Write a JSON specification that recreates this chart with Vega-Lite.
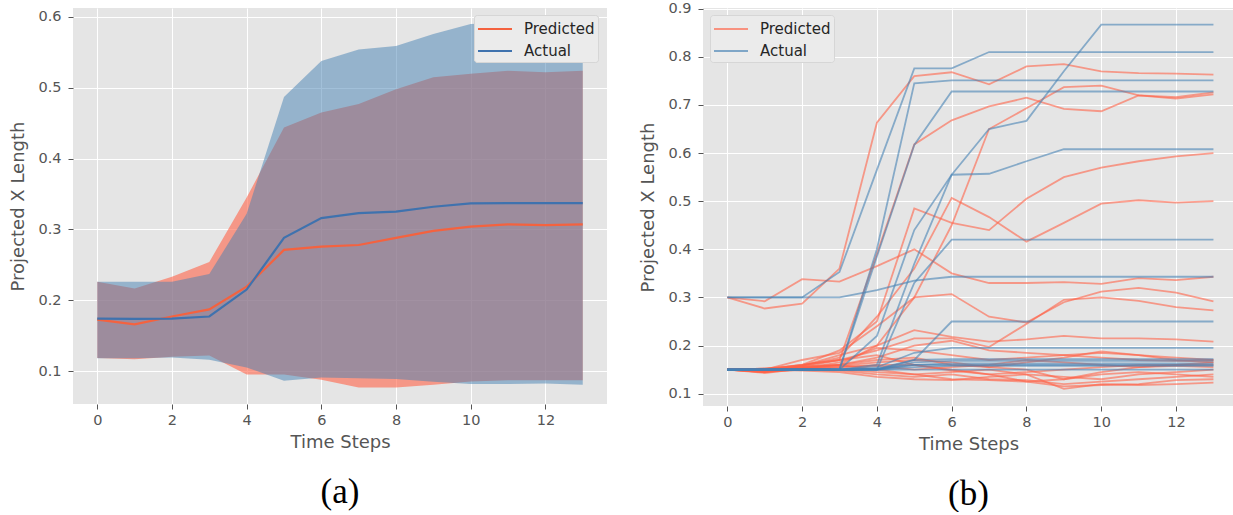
{
  "$schema": "https://vega.github.io/schema/vega-lite/v6.json",
  "background": "white",
  "padding": {"left": 9, "top": 0, "right": 0, "bottom": 0},
  "spacing": 32,
  "config": {
    "view": {"fill": "#E5E5E5", "stroke": null},
    "axis": {"labelFont": "DejaVu Sans", "labelFontSize": 14.5, "labelColor": "#555555", "titleFont": "DejaVu Sans", "titleFontSize": 18, "titleColor": "#555555", "titleFontWeight": "normal", "domain": false, "tickColor": "#555555", "tickSize": 5, "tickWidth": 1, "gridColor": "#FFFFFF", "gridWidth": 1, "gridOpacity": 1, "labelFlush": false, "labelOverlap": false},
    "axisX": {"labelPadding": 4, "titlePadding": 7},
    "axisY": {"labelPadding": 7, "titlePadding": 10},
    "legend": {"labelFont": "DejaVu Sans", "labelFontSize": 15, "labelColor": "#262626", "fillColor": "#EBEBEB", "strokeColor": "#D6D6D6", "cornerRadius": 3, "padding": 3, "rowPadding": 3, "symbolSize": 400, "symbolType": "M-1,0H2.4", "symbolStrokeWidth": 2, "labelOffset": 25, "title": null},
    "title": {"font": "Liberation Serif", "fontSize": 35, "fontWeight": "normal", "color": "#000000", "orient": "bottom", "anchor": "middle", "offset": 23}
  },
  "datasets": {
    "band": [
      {"series": "Predicted", "t": 0, "mean": 0.1725, "lo": 0.1185, "hi": 0.226},
      {"series": "Predicted", "t": 1, "mean": 0.166, "lo": 0.1166, "hi": 0.2166},
      {"series": "Predicted", "t": 2, "mean": 0.177, "lo": 0.12, "hi": 0.233},
      {"series": "Predicted", "t": 3, "mean": 0.187, "lo": 0.122, "hi": 0.254},
      {"series": "Predicted", "t": 4, "mean": 0.219, "lo": 0.095, "hi": 0.345},
      {"series": "Predicted", "t": 5, "mean": 0.271, "lo": 0.095, "hi": 0.444},
      {"series": "Predicted", "t": 6, "mean": 0.2756, "lo": 0.0877, "hi": 0.465},
      {"series": "Predicted", "t": 7, "mean": 0.278, "lo": 0.0768, "hi": 0.477},
      {"series": "Predicted", "t": 8, "mean": 0.288, "lo": 0.0768, "hi": 0.498},
      {"series": "Predicted", "t": 9, "mean": 0.298, "lo": 0.0806, "hi": 0.515},
      {"series": "Predicted", "t": 10, "mean": 0.304, "lo": 0.0853, "hi": 0.52},
      {"series": "Predicted", "t": 11, "mean": 0.307, "lo": 0.087, "hi": 0.524},
      {"series": "Predicted", "t": 12, "mean": 0.306, "lo": 0.087, "hi": 0.522},
      {"series": "Predicted", "t": 13, "mean": 0.307, "lo": 0.087, "hi": 0.524},
      {"series": "Actual", "t": 0, "mean": 0.174, "lo": 0.118, "hi": 0.226},
      {"series": "Actual", "t": 1, "mean": 0.1735, "lo": 0.118, "hi": 0.226},
      {"series": "Actual", "t": 2, "mean": 0.174, "lo": 0.119, "hi": 0.226},
      {"series": "Actual", "t": 3, "mean": 0.177, "lo": 0.116, "hi": 0.237},
      {"series": "Actual", "t": 4, "mean": 0.215, "lo": 0.105, "hi": 0.322},
      {"series": "Actual", "t": 5, "mean": 0.288, "lo": 0.0863, "hi": 0.487},
      {"series": "Actual", "t": 6, "mean": 0.316, "lo": 0.091, "hi": 0.538},
      {"series": "Actual", "t": 7, "mean": 0.323, "lo": 0.0896, "hi": 0.554},
      {"series": "Actual", "t": 8, "mean": 0.325, "lo": 0.0886, "hi": 0.559},
      {"series": "Actual", "t": 9, "mean": 0.332, "lo": 0.085, "hi": 0.576},
      {"series": "Actual", "t": 10, "mean": 0.3367, "lo": 0.0815, "hi": 0.59},
      {"series": "Actual", "t": 11, "mean": 0.337, "lo": 0.0815, "hi": 0.592},
      {"series": "Actual", "t": 12, "mean": 0.337, "lo": 0.0825, "hi": 0.593},
      {"series": "Actual", "t": 13, "mean": 0.337, "lo": 0.0806, "hi": 0.593}
    ],
    "lines": [
      {"s":"a1","g":"Actual","t":0,"v":0.15},{"s":"a1","g":"Actual","t":1,"v":0.15},{"s":"a1","g":"Actual","t":2,"v":0.15},{"s":"a1","g":"Actual","t":3,"v":0.15},{"s":"a1","g":"Actual","t":4,"v":0.22},{"s":"a1","g":"Actual","t":5,"v":0.44},{"s":"a1","g":"Actual","t":6,"v":0.555},{"s":"a1","g":"Actual","t":7,"v":0.65},{"s":"a1","g":"Actual","t":8,"v":0.667},{"s":"a1","g":"Actual","t":9,"v":0.77},{"s":"a1","g":"Actual","t":10,"v":0.867},{"s":"a1","g":"Actual","t":11,"v":0.867},{"s":"a1","g":"Actual","t":12,"v":0.867},{"s":"a1","g":"Actual","t":13,"v":0.867},
      {"s":"a2","g":"Actual","t":0,"v":0.3},{"s":"a2","g":"Actual","t":1,"v":0.3},{"s":"a2","g":"Actual","t":2,"v":0.3},{"s":"a2","g":"Actual","t":3,"v":0.353},{"s":"a2","g":"Actual","t":4,"v":0.565},{"s":"a2","g":"Actual","t":5,"v":0.776},{"s":"a2","g":"Actual","t":6,"v":0.776},{"s":"a2","g":"Actual","t":7,"v":0.81},{"s":"a2","g":"Actual","t":8,"v":0.81},{"s":"a2","g":"Actual","t":9,"v":0.81},{"s":"a2","g":"Actual","t":10,"v":0.81},{"s":"a2","g":"Actual","t":11,"v":0.81},{"s":"a2","g":"Actual","t":12,"v":0.81},{"s":"a2","g":"Actual","t":13,"v":0.81},
      {"s":"a3","g":"Actual","t":0,"v":0.15},{"s":"a3","g":"Actual","t":1,"v":0.15},{"s":"a3","g":"Actual","t":2,"v":0.15},{"s":"a3","g":"Actual","t":3,"v":0.15},{"s":"a3","g":"Actual","t":4,"v":0.4},{"s":"a3","g":"Actual","t":5,"v":0.745},{"s":"a3","g":"Actual","t":6,"v":0.751},{"s":"a3","g":"Actual","t":7,"v":0.751},{"s":"a3","g":"Actual","t":8,"v":0.751},{"s":"a3","g":"Actual","t":9,"v":0.751},{"s":"a3","g":"Actual","t":10,"v":0.751},{"s":"a3","g":"Actual","t":11,"v":0.751},{"s":"a3","g":"Actual","t":12,"v":0.751},{"s":"a3","g":"Actual","t":13,"v":0.751},
      {"s":"a4","g":"Actual","t":0,"v":0.15},{"s":"a4","g":"Actual","t":1,"v":0.15},{"s":"a4","g":"Actual","t":2,"v":0.15},{"s":"a4","g":"Actual","t":3,"v":0.15},{"s":"a4","g":"Actual","t":4,"v":0.385},{"s":"a4","g":"Actual","t":5,"v":0.617},{"s":"a4","g":"Actual","t":6,"v":0.728},{"s":"a4","g":"Actual","t":7,"v":0.728},{"s":"a4","g":"Actual","t":8,"v":0.728},{"s":"a4","g":"Actual","t":9,"v":0.728},{"s":"a4","g":"Actual","t":10,"v":0.728},{"s":"a4","g":"Actual","t":11,"v":0.728},{"s":"a4","g":"Actual","t":12,"v":0.728},{"s":"a4","g":"Actual","t":13,"v":0.728},
      {"s":"a5","g":"Actual","t":0,"v":0.15},{"s":"a5","g":"Actual","t":1,"v":0.15},{"s":"a5","g":"Actual","t":2,"v":0.15},{"s":"a5","g":"Actual","t":3,"v":0.15},{"s":"a5","g":"Actual","t":4,"v":0.16},{"s":"a5","g":"Actual","t":5,"v":0.37},{"s":"a5","g":"Actual","t":6,"v":0.555},{"s":"a5","g":"Actual","t":7,"v":0.557},{"s":"a5","g":"Actual","t":8,"v":0.583},{"s":"a5","g":"Actual","t":9,"v":0.608},{"s":"a5","g":"Actual","t":10,"v":0.608},{"s":"a5","g":"Actual","t":11,"v":0.608},{"s":"a5","g":"Actual","t":12,"v":0.608},{"s":"a5","g":"Actual","t":13,"v":0.608},
      {"s":"a6","g":"Actual","t":0,"v":0.15},{"s":"a6","g":"Actual","t":1,"v":0.15},{"s":"a6","g":"Actual","t":2,"v":0.15},{"s":"a6","g":"Actual","t":3,"v":0.15},{"s":"a6","g":"Actual","t":4,"v":0.15},{"s":"a6","g":"Actual","t":5,"v":0.33},{"s":"a6","g":"Actual","t":6,"v":0.42},{"s":"a6","g":"Actual","t":7,"v":0.42},{"s":"a6","g":"Actual","t":8,"v":0.42},{"s":"a6","g":"Actual","t":9,"v":0.42},{"s":"a6","g":"Actual","t":10,"v":0.42},{"s":"a6","g":"Actual","t":11,"v":0.42},{"s":"a6","g":"Actual","t":12,"v":0.42},{"s":"a6","g":"Actual","t":13,"v":0.42},
      {"s":"a7","g":"Actual","t":0,"v":0.3},{"s":"a7","g":"Actual","t":1,"v":0.3},{"s":"a7","g":"Actual","t":2,"v":0.3},{"s":"a7","g":"Actual","t":3,"v":0.3},{"s":"a7","g":"Actual","t":4,"v":0.315},{"s":"a7","g":"Actual","t":5,"v":0.335},{"s":"a7","g":"Actual","t":6,"v":0.343},{"s":"a7","g":"Actual","t":7,"v":0.343},{"s":"a7","g":"Actual","t":8,"v":0.343},{"s":"a7","g":"Actual","t":9,"v":0.343},{"s":"a7","g":"Actual","t":10,"v":0.343},{"s":"a7","g":"Actual","t":11,"v":0.343},{"s":"a7","g":"Actual","t":12,"v":0.343},{"s":"a7","g":"Actual","t":13,"v":0.343},
      {"s":"a8","g":"Actual","t":0,"v":0.15},{"s":"a8","g":"Actual","t":1,"v":0.15},{"s":"a8","g":"Actual","t":2,"v":0.15},{"s":"a8","g":"Actual","t":3,"v":0.15},{"s":"a8","g":"Actual","t":4,"v":0.15},{"s":"a8","g":"Actual","t":5,"v":0.17},{"s":"a8","g":"Actual","t":6,"v":0.25},{"s":"a8","g":"Actual","t":7,"v":0.25},{"s":"a8","g":"Actual","t":8,"v":0.25},{"s":"a8","g":"Actual","t":9,"v":0.25},{"s":"a8","g":"Actual","t":10,"v":0.25},{"s":"a8","g":"Actual","t":11,"v":0.25},{"s":"a8","g":"Actual","t":12,"v":0.25},{"s":"a8","g":"Actual","t":13,"v":0.25},
      {"s":"a9","g":"Actual","t":0,"v":0.15},{"s":"a9","g":"Actual","t":1,"v":0.15},{"s":"a9","g":"Actual","t":2,"v":0.15},{"s":"a9","g":"Actual","t":3,"v":0.15},{"s":"a9","g":"Actual","t":4,"v":0.155},{"s":"a9","g":"Actual","t":5,"v":0.185},{"s":"a9","g":"Actual","t":6,"v":0.195},{"s":"a9","g":"Actual","t":7,"v":0.195},{"s":"a9","g":"Actual","t":8,"v":0.195},{"s":"a9","g":"Actual","t":9,"v":0.195},{"s":"a9","g":"Actual","t":10,"v":0.195},{"s":"a9","g":"Actual","t":11,"v":0.195},{"s":"a9","g":"Actual","t":12,"v":0.195},{"s":"a9","g":"Actual","t":13,"v":0.195},
      {"s":"a10","g":"Actual","t":0,"v":0.15},{"s":"a10","g":"Actual","t":1,"v":0.15},{"s":"a10","g":"Actual","t":2,"v":0.15},{"s":"a10","g":"Actual","t":3,"v":0.15},{"s":"a10","g":"Actual","t":4,"v":0.152},{"s":"a10","g":"Actual","t":5,"v":0.17},{"s":"a10","g":"Actual","t":6,"v":0.172},{"s":"a10","g":"Actual","t":7,"v":0.172},{"s":"a10","g":"Actual","t":8,"v":0.172},{"s":"a10","g":"Actual","t":9,"v":0.172},{"s":"a10","g":"Actual","t":10,"v":0.172},{"s":"a10","g":"Actual","t":11,"v":0.172},{"s":"a10","g":"Actual","t":12,"v":0.172},{"s":"a10","g":"Actual","t":13,"v":0.172},
      {"s":"a11","g":"Actual","t":0,"v":0.15},{"s":"a11","g":"Actual","t":1,"v":0.15},{"s":"a11","g":"Actual","t":2,"v":0.15},{"s":"a11","g":"Actual","t":3,"v":0.15},{"s":"a11","g":"Actual","t":4,"v":0.15},{"s":"a11","g":"Actual","t":5,"v":0.165},{"s":"a11","g":"Actual","t":6,"v":0.168},{"s":"a11","g":"Actual","t":7,"v":0.168},{"s":"a11","g":"Actual","t":8,"v":0.168},{"s":"a11","g":"Actual","t":9,"v":0.168},{"s":"a11","g":"Actual","t":10,"v":0.168},{"s":"a11","g":"Actual","t":11,"v":0.168},{"s":"a11","g":"Actual","t":12,"v":0.168},{"s":"a11","g":"Actual","t":13,"v":0.168},
      {"s":"a12","g":"Actual","t":0,"v":0.15},{"s":"a12","g":"Actual","t":1,"v":0.15},{"s":"a12","g":"Actual","t":2,"v":0.15},{"s":"a12","g":"Actual","t":3,"v":0.15},{"s":"a12","g":"Actual","t":4,"v":0.15},{"s":"a12","g":"Actual","t":5,"v":0.16},{"s":"a12","g":"Actual","t":6,"v":0.163},{"s":"a12","g":"Actual","t":7,"v":0.163},{"s":"a12","g":"Actual","t":8,"v":0.163},{"s":"a12","g":"Actual","t":9,"v":0.163},{"s":"a12","g":"Actual","t":10,"v":0.163},{"s":"a12","g":"Actual","t":11,"v":0.163},{"s":"a12","g":"Actual","t":12,"v":0.163},{"s":"a12","g":"Actual","t":13,"v":0.163},
      {"s":"a13","g":"Actual","t":0,"v":0.15},{"s":"a13","g":"Actual","t":1,"v":0.15},{"s":"a13","g":"Actual","t":2,"v":0.15},{"s":"a13","g":"Actual","t":3,"v":0.15},{"s":"a13","g":"Actual","t":4,"v":0.15},{"s":"a13","g":"Actual","t":5,"v":0.155},{"s":"a13","g":"Actual","t":6,"v":0.158},{"s":"a13","g":"Actual","t":7,"v":0.158},{"s":"a13","g":"Actual","t":8,"v":0.158},{"s":"a13","g":"Actual","t":9,"v":0.158},{"s":"a13","g":"Actual","t":10,"v":0.158},{"s":"a13","g":"Actual","t":11,"v":0.158},{"s":"a13","g":"Actual","t":12,"v":0.158},{"s":"a13","g":"Actual","t":13,"v":0.158},
      {"s":"a14","g":"Actual","t":0,"v":0.15},{"s":"a14","g":"Actual","t":1,"v":0.15},{"s":"a14","g":"Actual","t":2,"v":0.15},{"s":"a14","g":"Actual","t":3,"v":0.15},{"s":"a14","g":"Actual","t":4,"v":0.15},{"s":"a14","g":"Actual","t":5,"v":0.15},{"s":"a14","g":"Actual","t":6,"v":0.15},{"s":"a14","g":"Actual","t":7,"v":0.15},{"s":"a14","g":"Actual","t":8,"v":0.15},{"s":"a14","g":"Actual","t":9,"v":0.15},{"s":"a14","g":"Actual","t":10,"v":0.15},{"s":"a14","g":"Actual","t":11,"v":0.15},{"s":"a14","g":"Actual","t":12,"v":0.15},{"s":"a14","g":"Actual","t":13,"v":0.15},
      {"s":"a15","g":"Actual","t":0,"v":0.15},{"s":"a15","g":"Actual","t":1,"v":0.15},{"s":"a15","g":"Actual","t":2,"v":0.15},{"s":"a15","g":"Actual","t":3,"v":0.15},{"s":"a15","g":"Actual","t":4,"v":0.152},{"s":"a15","g":"Actual","t":5,"v":0.16},{"s":"a15","g":"Actual","t":6,"v":0.16},{"s":"a15","g":"Actual","t":7,"v":0.16},{"s":"a15","g":"Actual","t":8,"v":0.16},{"s":"a15","g":"Actual","t":9,"v":0.16},{"s":"a15","g":"Actual","t":10,"v":0.16},{"s":"a15","g":"Actual","t":11,"v":0.16},{"s":"a15","g":"Actual","t":12,"v":0.16},{"s":"a15","g":"Actual","t":13,"v":0.16},
      {"s":"p1","g":"Predicted","t":0,"v":0.3},{"s":"p1","g":"Predicted","t":1,"v":0.277},{"s":"p1","g":"Predicted","t":2,"v":0.287},{"s":"p1","g":"Predicted","t":3,"v":0.36},{"s":"p1","g":"Predicted","t":4,"v":0.663},{"s":"p1","g":"Predicted","t":5,"v":0.76},{"s":"p1","g":"Predicted","t":6,"v":0.768},{"s":"p1","g":"Predicted","t":7,"v":0.743},{"s":"p1","g":"Predicted","t":8,"v":0.78},{"s":"p1","g":"Predicted","t":9,"v":0.785},{"s":"p1","g":"Predicted","t":10,"v":0.77},{"s":"p1","g":"Predicted","t":11,"v":0.766},{"s":"p1","g":"Predicted","t":12,"v":0.765},{"s":"p1","g":"Predicted","t":13,"v":0.763},
      {"s":"p2","g":"Predicted","t":0,"v":0.15},{"s":"p2","g":"Predicted","t":1,"v":0.148},{"s":"p2","g":"Predicted","t":2,"v":0.155},{"s":"p2","g":"Predicted","t":3,"v":0.17},{"s":"p2","g":"Predicted","t":4,"v":0.39},{"s":"p2","g":"Predicted","t":5,"v":0.618},{"s":"p2","g":"Predicted","t":6,"v":0.668},{"s":"p2","g":"Predicted","t":7,"v":0.697},{"s":"p2","g":"Predicted","t":8,"v":0.715},{"s":"p2","g":"Predicted","t":9,"v":0.692},{"s":"p2","g":"Predicted","t":10,"v":0.687},{"s":"p2","g":"Predicted","t":11,"v":0.72},{"s":"p2","g":"Predicted","t":12,"v":0.716},{"s":"p2","g":"Predicted","t":13,"v":0.726},
      {"s":"p3","g":"Predicted","t":0,"v":0.15},{"s":"p3","g":"Predicted","t":1,"v":0.145},{"s":"p3","g":"Predicted","t":2,"v":0.152},{"s":"p3","g":"Predicted","t":3,"v":0.16},{"s":"p3","g":"Predicted","t":4,"v":0.2},{"s":"p3","g":"Predicted","t":5,"v":0.3},{"s":"p3","g":"Predicted","t":6,"v":0.45},{"s":"p3","g":"Predicted","t":7,"v":0.65},{"s":"p3","g":"Predicted","t":8,"v":0.693},{"s":"p3","g":"Predicted","t":9,"v":0.737},{"s":"p3","g":"Predicted","t":10,"v":0.74},{"s":"p3","g":"Predicted","t":11,"v":0.72},{"s":"p3","g":"Predicted","t":12,"v":0.713},{"s":"p3","g":"Predicted","t":13,"v":0.722},
      {"s":"p4","g":"Predicted","t":0,"v":0.15},{"s":"p4","g":"Predicted","t":1,"v":0.15},{"s":"p4","g":"Predicted","t":2,"v":0.16},{"s":"p4","g":"Predicted","t":3,"v":0.19},{"s":"p4","g":"Predicted","t":4,"v":0.25},{"s":"p4","g":"Predicted","t":5,"v":0.485},{"s":"p4","g":"Predicted","t":6,"v":0.455},{"s":"p4","g":"Predicted","t":7,"v":0.44},{"s":"p4","g":"Predicted","t":8,"v":0.505},{"s":"p4","g":"Predicted","t":9,"v":0.55},{"s":"p4","g":"Predicted","t":10,"v":0.57},{"s":"p4","g":"Predicted","t":11,"v":0.583},{"s":"p4","g":"Predicted","t":12,"v":0.593},{"s":"p4","g":"Predicted","t":13,"v":0.6},
      {"s":"p5","g":"Predicted","t":0,"v":0.15},{"s":"p5","g":"Predicted","t":1,"v":0.148},{"s":"p5","g":"Predicted","t":2,"v":0.158},{"s":"p5","g":"Predicted","t":3,"v":0.175},{"s":"p5","g":"Predicted","t":4,"v":0.26},{"s":"p5","g":"Predicted","t":5,"v":0.36},{"s":"p5","g":"Predicted","t":6,"v":0.507},{"s":"p5","g":"Predicted","t":7,"v":0.467},{"s":"p5","g":"Predicted","t":8,"v":0.416},{"s":"p5","g":"Predicted","t":9,"v":0.455},{"s":"p5","g":"Predicted","t":10,"v":0.495},{"s":"p5","g":"Predicted","t":11,"v":0.502},{"s":"p5","g":"Predicted","t":12,"v":0.497},{"s":"p5","g":"Predicted","t":13,"v":0.5},
      {"s":"p6","g":"Predicted","t":0,"v":0.3},{"s":"p6","g":"Predicted","t":1,"v":0.292},{"s":"p6","g":"Predicted","t":2,"v":0.338},{"s":"p6","g":"Predicted","t":3,"v":0.333},{"s":"p6","g":"Predicted","t":4,"v":0.365},{"s":"p6","g":"Predicted","t":5,"v":0.4},{"s":"p6","g":"Predicted","t":6,"v":0.35},{"s":"p6","g":"Predicted","t":7,"v":0.33},{"s":"p6","g":"Predicted","t":8,"v":0.33},{"s":"p6","g":"Predicted","t":9,"v":0.332},{"s":"p6","g":"Predicted","t":10,"v":0.328},{"s":"p6","g":"Predicted","t":11,"v":0.34},{"s":"p6","g":"Predicted","t":12,"v":0.336},{"s":"p6","g":"Predicted","t":13,"v":0.343},
      {"s":"p7","g":"Predicted","t":0,"v":0.15},{"s":"p7","g":"Predicted","t":1,"v":0.15},{"s":"p7","g":"Predicted","t":2,"v":0.17},{"s":"p7","g":"Predicted","t":3,"v":0.185},{"s":"p7","g":"Predicted","t":4,"v":0.24},{"s":"p7","g":"Predicted","t":5,"v":0.3},{"s":"p7","g":"Predicted","t":6,"v":0.307},{"s":"p7","g":"Predicted","t":7,"v":0.26},{"s":"p7","g":"Predicted","t":8,"v":0.248},{"s":"p7","g":"Predicted","t":9,"v":0.29},{"s":"p7","g":"Predicted","t":10,"v":0.312},{"s":"p7","g":"Predicted","t":11,"v":0.32},{"s":"p7","g":"Predicted","t":12,"v":0.31},{"s":"p7","g":"Predicted","t":13,"v":0.292},
      {"s":"p8","g":"Predicted","t":0,"v":0.15},{"s":"p8","g":"Predicted","t":1,"v":0.152},{"s":"p8","g":"Predicted","t":2,"v":0.16},{"s":"p8","g":"Predicted","t":3,"v":0.17},{"s":"p8","g":"Predicted","t":4,"v":0.19},{"s":"p8","g":"Predicted","t":5,"v":0.215},{"s":"p8","g":"Predicted","t":6,"v":0.215},{"s":"p8","g":"Predicted","t":7,"v":0.197},{"s":"p8","g":"Predicted","t":8,"v":0.245},{"s":"p8","g":"Predicted","t":9,"v":0.295},{"s":"p8","g":"Predicted","t":10,"v":0.3},{"s":"p8","g":"Predicted","t":11,"v":0.293},{"s":"p8","g":"Predicted","t":12,"v":0.28},{"s":"p8","g":"Predicted","t":13,"v":0.273},
      {"s":"p9","g":"Predicted","t":0,"v":0.15},{"s":"p9","g":"Predicted","t":1,"v":0.145},{"s":"p9","g":"Predicted","t":2,"v":0.158},{"s":"p9","g":"Predicted","t":3,"v":0.18},{"s":"p9","g":"Predicted","t":4,"v":0.2},{"s":"p9","g":"Predicted","t":5,"v":0.232},{"s":"p9","g":"Predicted","t":6,"v":0.218},{"s":"p9","g":"Predicted","t":7,"v":0.208},{"s":"p9","g":"Predicted","t":8,"v":0.213},{"s":"p9","g":"Predicted","t":9,"v":0.22},{"s":"p9","g":"Predicted","t":10,"v":0.215},{"s":"p9","g":"Predicted","t":11,"v":0.215},{"s":"p9","g":"Predicted","t":12,"v":0.213},{"s":"p9","g":"Predicted","t":13,"v":0.208},
      {"s":"p10","g":"Predicted","t":0,"v":0.15},{"s":"p10","g":"Predicted","t":1,"v":0.143},{"s":"p10","g":"Predicted","t":2,"v":0.152},{"s":"p10","g":"Predicted","t":3,"v":0.165},{"s":"p10","g":"Predicted","t":4,"v":0.195},{"s":"p10","g":"Predicted","t":5,"v":0.19},{"s":"p10","g":"Predicted","t":6,"v":0.18},{"s":"p10","g":"Predicted","t":7,"v":0.17},{"s":"p10","g":"Predicted","t":8,"v":0.175},{"s":"p10","g":"Predicted","t":9,"v":0.18},{"s":"p10","g":"Predicted","t":10,"v":0.185},{"s":"p10","g":"Predicted","t":11,"v":0.18},{"s":"p10","g":"Predicted","t":12,"v":0.175},{"s":"p10","g":"Predicted","t":13,"v":0.17},
      {"s":"p11","g":"Predicted","t":0,"v":0.15},{"s":"p11","g":"Predicted","t":1,"v":0.148},{"s":"p11","g":"Predicted","t":2,"v":0.155},{"s":"p11","g":"Predicted","t":3,"v":0.16},{"s":"p11","g":"Predicted","t":4,"v":0.17},{"s":"p11","g":"Predicted","t":5,"v":0.175},{"s":"p11","g":"Predicted","t":6,"v":0.16},{"s":"p11","g":"Predicted","t":7,"v":0.155},{"s":"p11","g":"Predicted","t":8,"v":0.165},{"s":"p11","g":"Predicted","t":9,"v":0.175},{"s":"p11","g":"Predicted","t":10,"v":0.188},{"s":"p11","g":"Predicted","t":11,"v":0.18},{"s":"p11","g":"Predicted","t":12,"v":0.17},{"s":"p11","g":"Predicted","t":13,"v":0.165},
      {"s":"p12","g":"Predicted","t":0,"v":0.15},{"s":"p12","g":"Predicted","t":1,"v":0.145},{"s":"p12","g":"Predicted","t":2,"v":0.15},{"s":"p12","g":"Predicted","t":3,"v":0.155},{"s":"p12","g":"Predicted","t":4,"v":0.16},{"s":"p12","g":"Predicted","t":5,"v":0.16},{"s":"p12","g":"Predicted","t":6,"v":0.15},{"s":"p12","g":"Predicted","t":7,"v":0.14},{"s":"p12","g":"Predicted","t":8,"v":0.145},{"s":"p12","g":"Predicted","t":9,"v":0.15},{"s":"p12","g":"Predicted","t":10,"v":0.155},{"s":"p12","g":"Predicted","t":11,"v":0.16},{"s":"p12","g":"Predicted","t":12,"v":0.16},{"s":"p12","g":"Predicted","t":13,"v":0.16},
      {"s":"p13","g":"Predicted","t":0,"v":0.15},{"s":"p13","g":"Predicted","t":1,"v":0.148},{"s":"p13","g":"Predicted","t":2,"v":0.15},{"s":"p13","g":"Predicted","t":3,"v":0.148},{"s":"p13","g":"Predicted","t":4,"v":0.14},{"s":"p13","g":"Predicted","t":5,"v":0.135},{"s":"p13","g":"Predicted","t":6,"v":0.14},{"s":"p13","g":"Predicted","t":7,"v":0.13},{"s":"p13","g":"Predicted","t":8,"v":0.128},{"s":"p13","g":"Predicted","t":9,"v":0.12},{"s":"p13","g":"Predicted","t":10,"v":0.125},{"s":"p13","g":"Predicted","t":11,"v":0.13},{"s":"p13","g":"Predicted","t":12,"v":0.135},{"s":"p13","g":"Predicted","t":13,"v":0.14},
      {"s":"p14","g":"Predicted","t":0,"v":0.15},{"s":"p14","g":"Predicted","t":1,"v":0.15},{"s":"p14","g":"Predicted","t":2,"v":0.148},{"s":"p14","g":"Predicted","t":3,"v":0.145},{"s":"p14","g":"Predicted","t":4,"v":0.135},{"s":"p14","g":"Predicted","t":5,"v":0.13},{"s":"p14","g":"Predicted","t":6,"v":0.128},{"s":"p14","g":"Predicted","t":7,"v":0.135},{"s":"p14","g":"Predicted","t":8,"v":0.14},{"s":"p14","g":"Predicted","t":9,"v":0.11},{"s":"p14","g":"Predicted","t":10,"v":0.12},{"s":"p14","g":"Predicted","t":11,"v":0.118},{"s":"p14","g":"Predicted","t":12,"v":0.12},{"s":"p14","g":"Predicted","t":13,"v":0.123},
      {"s":"p15","g":"Predicted","t":0,"v":0.15},{"s":"p15","g":"Predicted","t":1,"v":0.152},{"s":"p15","g":"Predicted","t":2,"v":0.155},{"s":"p15","g":"Predicted","t":3,"v":0.15},{"s":"p15","g":"Predicted","t":4,"v":0.145},{"s":"p15","g":"Predicted","t":5,"v":0.14},{"s":"p15","g":"Predicted","t":6,"v":0.145},{"s":"p15","g":"Predicted","t":7,"v":0.15},{"s":"p15","g":"Predicted","t":8,"v":0.14},{"s":"p15","g":"Predicted","t":9,"v":0.135},{"s":"p15","g":"Predicted","t":10,"v":0.13},{"s":"p15","g":"Predicted","t":11,"v":0.14},{"s":"p15","g":"Predicted","t":12,"v":0.145},{"s":"p15","g":"Predicted","t":13,"v":0.15},
      {"s":"p16","g":"Predicted","t":0,"v":0.15},{"s":"p16","g":"Predicted","t":1,"v":0.146},{"s":"p16","g":"Predicted","t":2,"v":0.15},{"s":"p16","g":"Predicted","t":3,"v":0.155},{"s":"p16","g":"Predicted","t":4,"v":0.158},{"s":"p16","g":"Predicted","t":5,"v":0.15},{"s":"p16","g":"Predicted","t":6,"v":0.155},{"s":"p16","g":"Predicted","t":7,"v":0.16},{"s":"p16","g":"Predicted","t":8,"v":0.17},{"s":"p16","g":"Predicted","t":9,"v":0.165},{"s":"p16","g":"Predicted","t":10,"v":0.16},{"s":"p16","g":"Predicted","t":11,"v":0.155},{"s":"p16","g":"Predicted","t":12,"v":0.158},{"s":"p16","g":"Predicted","t":13,"v":0.155},
      {"s":"p17","g":"Predicted","t":0,"v":0.15},{"s":"p17","g":"Predicted","t":1,"v":0.148},{"s":"p17","g":"Predicted","t":2,"v":0.153},{"s":"p17","g":"Predicted","t":3,"v":0.158},{"s":"p17","g":"Predicted","t":4,"v":0.165},{"s":"p17","g":"Predicted","t":5,"v":0.17},{"s":"p17","g":"Predicted","t":6,"v":0.165},{"s":"p17","g":"Predicted","t":7,"v":0.155},{"s":"p17","g":"Predicted","t":8,"v":0.15},{"s":"p17","g":"Predicted","t":9,"v":0.13},{"s":"p17","g":"Predicted","t":10,"v":0.14},{"s":"p17","g":"Predicted","t":11,"v":0.145},{"s":"p17","g":"Predicted","t":12,"v":0.14},{"s":"p17","g":"Predicted","t":13,"v":0.135},
      {"s":"p18","g":"Predicted","t":0,"v":0.15},{"s":"p18","g":"Predicted","t":1,"v":0.15},{"s":"p18","g":"Predicted","t":2,"v":0.16},{"s":"p18","g":"Predicted","t":3,"v":0.17},{"s":"p18","g":"Predicted","t":4,"v":0.18},{"s":"p18","g":"Predicted","t":5,"v":0.16},{"s":"p18","g":"Predicted","t":6,"v":0.148},{"s":"p18","g":"Predicted","t":7,"v":0.14},{"s":"p18","g":"Predicted","t":8,"v":0.125},{"s":"p18","g":"Predicted","t":9,"v":0.115},{"s":"p18","g":"Predicted","t":10,"v":0.118},{"s":"p18","g":"Predicted","t":11,"v":0.12},{"s":"p18","g":"Predicted","t":12,"v":0.128},{"s":"p18","g":"Predicted","t":13,"v":0.13},
      {"s":"p19","g":"Predicted","t":0,"v":0.15},{"s":"p19","g":"Predicted","t":1,"v":0.152},{"s":"p19","g":"Predicted","t":2,"v":0.157},{"s":"p19","g":"Predicted","t":3,"v":0.16},{"s":"p19","g":"Predicted","t":4,"v":0.15},{"s":"p19","g":"Predicted","t":5,"v":0.14},{"s":"p19","g":"Predicted","t":6,"v":0.13},{"s":"p19","g":"Predicted","t":7,"v":0.128},{"s":"p19","g":"Predicted","t":8,"v":0.125},{"s":"p19","g":"Predicted","t":9,"v":0.13},{"s":"p19","g":"Predicted","t":10,"v":0.145},{"s":"p19","g":"Predicted","t":11,"v":0.155},{"s":"p19","g":"Predicted","t":12,"v":0.16},{"s":"p19","g":"Predicted","t":13,"v":0.165},
      {"s":"p20","g":"Predicted","t":0,"v":0.15},{"s":"p20","g":"Predicted","t":1,"v":0.147},{"s":"p20","g":"Predicted","t":2,"v":0.152},{"s":"p20","g":"Predicted","t":3,"v":0.16},{"s":"p20","g":"Predicted","t":4,"v":0.175},{"s":"p20","g":"Predicted","t":5,"v":0.2},{"s":"p20","g":"Predicted","t":6,"v":0.21},{"s":"p20","g":"Predicted","t":7,"v":0.19},{"s":"p20","g":"Predicted","t":8,"v":0.185},{"s":"p20","g":"Predicted","t":9,"v":0.18},{"s":"p20","g":"Predicted","t":10,"v":0.175},{"s":"p20","g":"Predicted","t":11,"v":0.17},{"s":"p20","g":"Predicted","t":12,"v":0.168},{"s":"p20","g":"Predicted","t":13,"v":0.17}
    ]
  },
  "hconcat": [
    {
      "width": 534,
      "height": 396,
      "title": {"text": "(a)"},
      "data": {"name": "band"},
      "encoding": {
        "x": {"field": "t", "type": "quantitative", "title": "Time Steps", "scale": {"domain": [-0.65, 13.65], "nice": false, "zero": false}, "axis": {"values": [0, 2, 4, 6, 8, 10, 12], "format": "d"}}
      },
      "layer": [
        {
          "transform": [{"filter": "datum.series === 'Predicted'"}],
          "mark": {"type": "area", "color": "#FF6347", "opacity": 0.6},
          "encoding": {
            "y": {"field": "hi", "type": "quantitative", "title": "Projected X Length", "scale": {"domain": [0.0534, 0.6127], "nice": false, "zero": false}, "axis": {"values": [0.1, 0.2, 0.3, 0.4, 0.5, 0.6], "format": ".1f"}},
            "y2": {"field": "lo"}
          }
        },
        {
          "transform": [{"filter": "datum.series === 'Actual'"}],
          "mark": {"type": "area", "color": "#4682B4", "opacity": 0.5},
          "encoding": {
            "y": {"field": "hi", "type": "quantitative", "title": "Projected X Length", "scale": {"domain": [0.0534, 0.6127], "nice": false, "zero": false}, "axis": {"values": [0.1, 0.2, 0.3, 0.4, 0.5, 0.6], "format": ".1f"}},
            "y2": {"field": "lo"}
          }
        },
        {
          "transform": [{"filter": "datum.series === 'Predicted'"}],
          "mark": {"type": "line", "strokeWidth": 2.2},
          "encoding": {
            "y": {"field": "mean", "type": "quantitative", "title": "Projected X Length", "scale": {"domain": [0.0534, 0.6127], "nice": false, "zero": false}, "axis": {"values": [0.1, 0.2, 0.3, 0.4, 0.5, 0.6], "format": ".1f"}},
            "color": {"field": "series", "type": "nominal", "scale": {"domain": ["Predicted", "Actual"], "range": ["#F4623F", "#3F72AE"]}, "legend": {"orient": "none", "legendX": 401, "legendY": 7}}
          }
        },
        {
          "transform": [{"filter": "datum.series === 'Actual'"}],
          "mark": {"type": "line", "strokeWidth": 2.2},
          "encoding": {
            "y": {"field": "mean", "type": "quantitative", "title": "Projected X Length", "scale": {"domain": [0.0534, 0.6127], "nice": false, "zero": false}, "axis": {"values": [0.1, 0.2, 0.3, 0.4, 0.5, 0.6], "format": ".1f"}},
            "color": {"field": "series", "type": "nominal", "scale": {"domain": ["Predicted", "Actual"], "range": ["#F4623F", "#3F72AE"]}, "legend": {"orient": "none", "legendX": 401, "legendY": 7}}
          }
        }
      ],
      "resolve": {"scale": {"color": "independent"}}
    },
    {
      "width": 531,
      "height": 398,
      "title": {"text": "(b)"},
      "data": {"name": "lines"},
      "encoding": {
        "x": {"field": "t", "type": "quantitative", "title": "Time Steps", "scale": {"domain": [-0.65, 13.55], "nice": false, "zero": false}, "axis": {"values": [0, 2, 4, 6, 8, 10, 12], "format": "d"}},
        "y": {"field": "v", "type": "quantitative", "title": "Projected X Length", "scale": {"domain": [0.0744, 0.9015], "nice": false, "zero": false}, "axis": {"values": [0.1, 0.2, 0.3, 0.4, 0.5, 0.6, 0.7, 0.8, 0.9], "format": ".1f"}},
        "detail": {"field": "s", "type": "nominal"},
        "color": {"field": "g", "type": "nominal", "scale": {"domain": ["Predicted", "Actual"], "range": ["#FF6347", "#4682B4"]}, "legend": {"orient": "none", "legendX": 7, "legendY": 7, "symbolOpacity": 0.65}}
      },
      "layer": [
        {"transform": [{"filter": "datum.g === 'Predicted'"}], "mark": {"type": "line", "strokeWidth": 1.8, "opacity": 0.6}},
        {"transform": [{"filter": "datum.g === 'Actual'"}], "mark": {"type": "line", "strokeWidth": 1.8, "opacity": 0.6}}
      ]
    }
  ],
  "resolve": {"scale": {"color": "independent"}, "legend": {"color": "independent"}}
}
